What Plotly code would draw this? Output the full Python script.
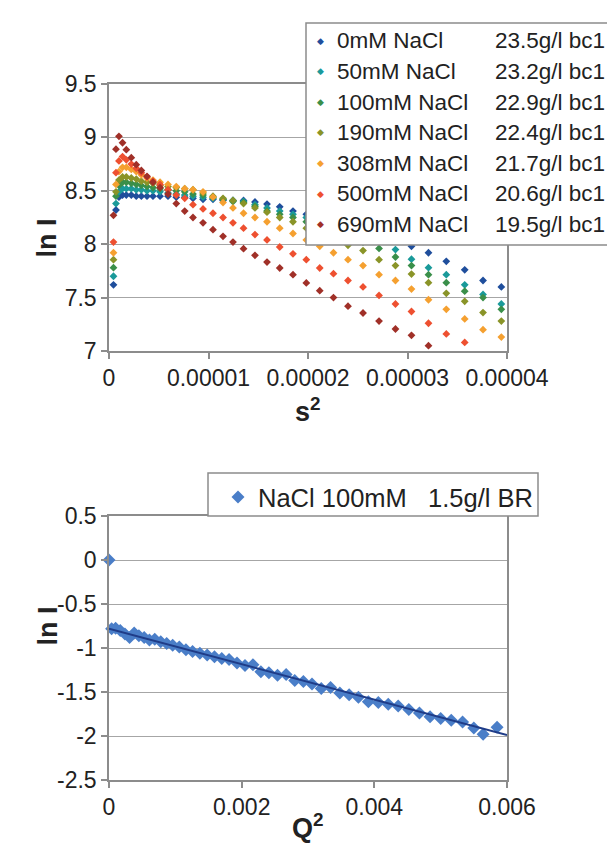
import plotly.graph_objects as go

W, H = 615, 852

# ---- top panel: ln I against s^2 for seven salt concentrations ----
s2 = [4.5e-7, 7.0e-7, 1.00e-6, 1.36e-6, 1.74e-6, 2.24e-6, 2.74e-6, 3.25e-6, 3.82e-6,
      4.42e-6, 5.13e-6, 5.93e-6, 6.76e-6, 7.61e-6, 8.44e-6, 9.45e-6, 1.045e-5, 1.146e-5,
      1.246e-5, 1.352e-5, 1.467e-5, 1.588e-5, 1.716e-5, 1.849e-5, 1.983e-5, 2.118e-5,
      2.256e-5, 2.402e-5, 2.553e-5, 2.714e-5, 2.879e-5, 3.040e-5, 3.211e-5, 3.390e-5,
      3.575e-5, 3.759e-5, 3.943e-5]

ln_0mM = [7.62, 8.32, 8.44, 8.46, 8.46, 8.46, 8.45, 8.45, 8.45, 8.45, 8.45, 8.45, 8.44,
          8.44, 8.43, 8.42, 8.42, 8.41, 8.41, 8.41, 8.395, 8.376, 8.35, 8.31, 8.28, 8.25,
          8.21, 8.17, 8.13, 8.08, 8.03, 7.98, 7.92, 7.84, 7.76, 7.66, 7.60]
ln_50mM = [7.70, 8.38, 8.49, 8.52, 8.52, 8.52, 8.51, 8.51, 8.50, 8.50, 8.49, 8.48, 8.47,
           8.46, 8.45, 8.44, 8.43, 8.42, 8.41, 8.40, 8.37, 8.34, 8.31, 8.28, 8.25, 8.21,
           8.17, 8.12, 8.07, 8.02, 7.95, 7.86, 7.78, 7.715, 7.62, 7.53, 7.44]
ln_100mM = [7.78, 8.45, 8.55, 8.58, 8.58, 8.57, 8.56, 8.55, 8.54, 8.53, 8.52, 8.51, 8.50,
            8.49, 8.47, 8.46, 8.44, 8.42, 8.40, 8.39, 8.355, 8.31, 8.28, 8.25, 8.21, 8.17,
            8.12, 8.07, 8.02, 7.96, 7.88, 7.80, 7.715, 7.64, 7.56, 7.50, 7.39]
ln_190mM = [7.855, 8.49, 8.60, 8.63, 8.63, 8.62, 8.61, 8.59, 8.58, 8.57, 8.55, 8.54, 8.53,
            8.52, 8.51, 8.48, 8.45, 8.43, 8.41, 8.38, 8.34, 8.30, 8.25, 8.21, 8.15, 8.10,
            8.05, 7.99, 7.94, 7.855, 7.80, 7.72, 7.64, 7.54, 7.465, 7.36, 7.28]
ln_308mM = [7.92, 8.56, 8.68, 8.72, 8.72, 8.70, 8.68, 8.65, 8.62, 8.60, 8.58, 8.56, 8.54,
            8.52, 8.51, 8.49, 8.44, 8.39, 8.34, 8.29, 8.25, 8.21, 8.15, 8.10, 8.04, 7.98,
            7.92, 7.855, 7.80, 7.715, 7.66, 7.58, 7.48, 7.39, 7.30, 7.20, 7.13]
ln_500mM = [8.02, 8.67, 8.78, 8.82, 8.79, 8.75, 8.71, 8.67, 8.63, 8.59, 8.56, 8.51, 8.46,
            8.43, 8.37, 8.33, 8.29, 8.25, 8.20, 8.15, 8.09, 8.04, 7.974, 7.91, 7.855, 7.777,
            7.724, 7.66, 7.60, 7.52, 7.44, 7.37, 7.26, 7.16, 7.08, None, None]
ln_690mM = [8.27, 8.89, 9.01, 8.95, 8.885, 8.81, 8.745, 8.69, 8.636, 8.58, 8.53, 8.47, 8.38,
            8.31, 8.25, 8.20, 8.136, 8.074, 8.02, 7.958, 7.896, 7.833, 7.777, 7.715, 7.637,
            7.565, 7.50, 7.42, 7.356, 7.28, 7.206, 7.147, 7.05, None, None, None, None]

series_names = ["0mM NaCl", "50mM NaCl", "100mM NaCl", "190mM NaCl",
                "308mM NaCl", "500mM NaCl", "690mM NaCl"]
series_conc = ["23.5g/l bc1", "23.2g/l bc1", "22.9g/l bc1", "22.4g/l bc1",
               "21.7g/l bc1", "20.6g/l bc1", "19.5g/l bc1"]
series_y = [ln_0mM, ln_50mM, ln_100mM, ln_190mM, ln_308mM, ln_500mM, ln_690mM]
series_colors = ["#1f4e9c", "#1a9a9a", "#3a8f4a", "#8a9428", "#f5a030", "#ee5030", "#a03028"]

top_xticks = [0, 1e-5, 2e-5, 3e-5, 4e-5]
top_xlabels = ["0", "0.00001", "0.00002", "0.00003", "0.00004"]
top_yticks = [7, 7.5, 8, 8.5, 9, 9.5]
top_ylabels = ["7", "7.5", "8", "8.5", "9", "9.5"]

# ---- bottom panel: Guinier plot, NaCl 100mM, 1.5 g/l BR ----
q2 = [0.0, 0.00004, 0.00010, 0.00017, 0.00024, 0.00031, 0.00038, 0.00045, 0.00053,
      0.00061, 0.00069, 0.00078, 0.00087, 0.00096, 0.00106, 0.00116, 0.00126, 0.00137,
      0.00148, 0.00159, 0.00170, 0.00181, 0.00193, 0.00205, 0.00217, 0.00229, 0.00241,
      0.00254, 0.00267, 0.00280, 0.00293, 0.00306, 0.00320, 0.00334, 0.00348, 0.00362,
      0.00376, 0.00391, 0.00406, 0.00421, 0.00436, 0.00452, 0.00468, 0.00484, 0.00500,
      0.00516, 0.00533, 0.00550, 0.00564, 0.00585]
ln_br = [0.0, -0.78, -0.775, -0.80, -0.84, -0.88, -0.83, -0.86, -0.88, -0.91, -0.90, -0.93,
         -0.95, -0.97, -0.99, -1.02, -1.04, -1.06, -1.08, -1.10, -1.12, -1.13, -1.17, -1.20,
         -1.19, -1.27, -1.28, -1.31, -1.30, -1.37, -1.38, -1.41, -1.46, -1.45, -1.51, -1.53,
         -1.56, -1.61, -1.62, -1.64, -1.66, -1.70, -1.74, -1.78, -1.80, -1.82, -1.84, -1.91,
         -1.98, -1.90]
fit_q2 = [0.0, 0.006]
fit_ln = [-0.78, -1.99]

bot_xticks = [0, 0.002, 0.004, 0.006]
bot_xlabels = ["0", "0.002", "0.004", "0.006"]
bot_yticks = [-2.5, -2, -1.5, -1, -0.5, 0, 0.5]
bot_ylabels = ["-2.5", "-2", "-1.5", "-1", "-0.5", "0", "0.5"]


def px_x(x):
    return x / W


def px_y(y):
    return 1 - y / H


fig = go.Figure()
for name, ys, col in zip(series_names, series_y, series_colors):
    fig.add_trace(go.Scatter(x=s2, y=ys, mode="markers", name=name, showlegend=False,
                             marker=dict(symbol="diamond", size=6, color=col),
                             xaxis="x", yaxis="y"))

fig.add_trace(go.Scatter(x=q2, y=ln_br, mode="markers",
                         name="NaCl 100mM\u00a0\u00a0\u00a01.5g/l BR",
                         marker=dict(symbol="diamond", size=10, color="#4a7ec8"),
                         cliponaxis=False, xaxis="x2", yaxis="y2", legend="legend2"))
fig.add_trace(go.Scatter(x=fit_q2, y=fit_ln, mode="lines", showlegend=False,
                         line=dict(color="#1f3c88", width=2), xaxis="x2", yaxis="y2"))

axis_style = dict(showline=True, linecolor="#8c8c8c", linewidth=1.5, mirror=True,
                  ticks="outside", ticklen=6, tickcolor="#8c8c8c", tickwidth=1.5,
                  zeroline=False, automargin=False, tickfont=dict(size=23, color="#222"))
xdom = [px_x(101), px_x(499)]

fig.update_layout(
    width=W, height=H, margin=dict(l=0, r=0, t=0, b=0),
    paper_bgcolor="white", plot_bgcolor="white",
    font=dict(family="Arial, Liberation Sans, sans-serif", size=21, color="#222"),
    xaxis=dict(domain=xdom, anchor="y", range=[0, 4e-5], tickvals=top_xticks,
               ticktext=top_xlabels, showgrid=False, **axis_style),
    yaxis=dict(domain=[px_y(343), px_y(76)], anchor="x", range=[7, 9.5],
               tickvals=top_yticks, ticktext=top_ylabels, showgrid=True,
               gridcolor="#a6a6a6", gridwidth=1, **axis_style),
    xaxis2=dict(domain=xdom, anchor="y2", range=[0, 0.006], tickvals=bot_xticks,
                ticktext=bot_xlabels, showgrid=False, **axis_style),
    yaxis2=dict(domain=[px_y(772), px_y(508)], anchor="x2", range=[-2.5, 0.5],
                tickvals=bot_yticks, ticktext=bot_ylabels, showgrid=True,
                gridcolor="#a6a6a6", gridwidth=1, **axis_style),
    legend2=dict(x=px_x(210), y=px_y(466), xanchor="left", yanchor="top",
                 bgcolor="rgba(0,0,0,0)", borderwidth=0, font=dict(size=25.5)),
    shapes=[
        dict(type="rect", xref="paper", yref="paper", x0=px_x(298), x1=px_x(640),
             y0=px_y(237), y1=px_y(15), fillcolor="white",
             line=dict(color="#8c8c8c", width=1.5), layer="above"),
        dict(type="rect", xref="paper", yref="paper", x0=px_x(200), x1=px_x(530),
             y0=px_y(508), y1=px_y(465), fillcolor="white",
             line=dict(color="#8c8c8c", width=1.5), layer="above"),
    ],
)

# top legend: marker, salt label and concentration per row
for i, (name, conc, col) in enumerate(zip(series_names, series_conc, series_colors)):
    row_y = px_y(33 + 30.5 * i)
    fig.add_annotation(x=px_x(312), y=row_y, xref="paper", yref="paper", text="\u25c6",
                       showarrow=False, xanchor="center", yanchor="middle",
                       font=dict(size=9, color=col, family="DejaVu Sans"))
    fig.add_annotation(x=px_x(327), y=row_y, xref="paper", yref="paper", text=name,
                       showarrow=False, xanchor="left", yanchor="middle",
                       font=dict(size=22.5, color="#222"))
    fig.add_annotation(x=px_x(485), y=row_y, xref="paper", yref="paper", text=conc,
                       showarrow=False, xanchor="left", yanchor="middle",
                       font=dict(size=22.5, color="#222"))

# axis titles
title_font = dict(size=27, color="#222", weight="bold")
fig.add_annotation(x=px_x(22), y=px_y(209), xref="paper", yref="paper", text="ln I",
                   textangle=-90, showarrow=False, font=title_font)
fig.add_annotation(x=px_x(300), y=px_y(402), xref="paper", yref="paper",
                   text="s<sup>2</sup>", showarrow=False, font=title_font)
fig.add_annotation(x=px_x(22), y=px_y(640), xref="paper", yref="paper", text="ln I",
                   textangle=-90, showarrow=False, font=title_font)
fig.add_annotation(x=px_x(300), y=px_y(837), xref="paper", yref="paper",
                   text="Q<sup>2</sup>", showarrow=False, font=title_font)

fig.write_html("out.html")
